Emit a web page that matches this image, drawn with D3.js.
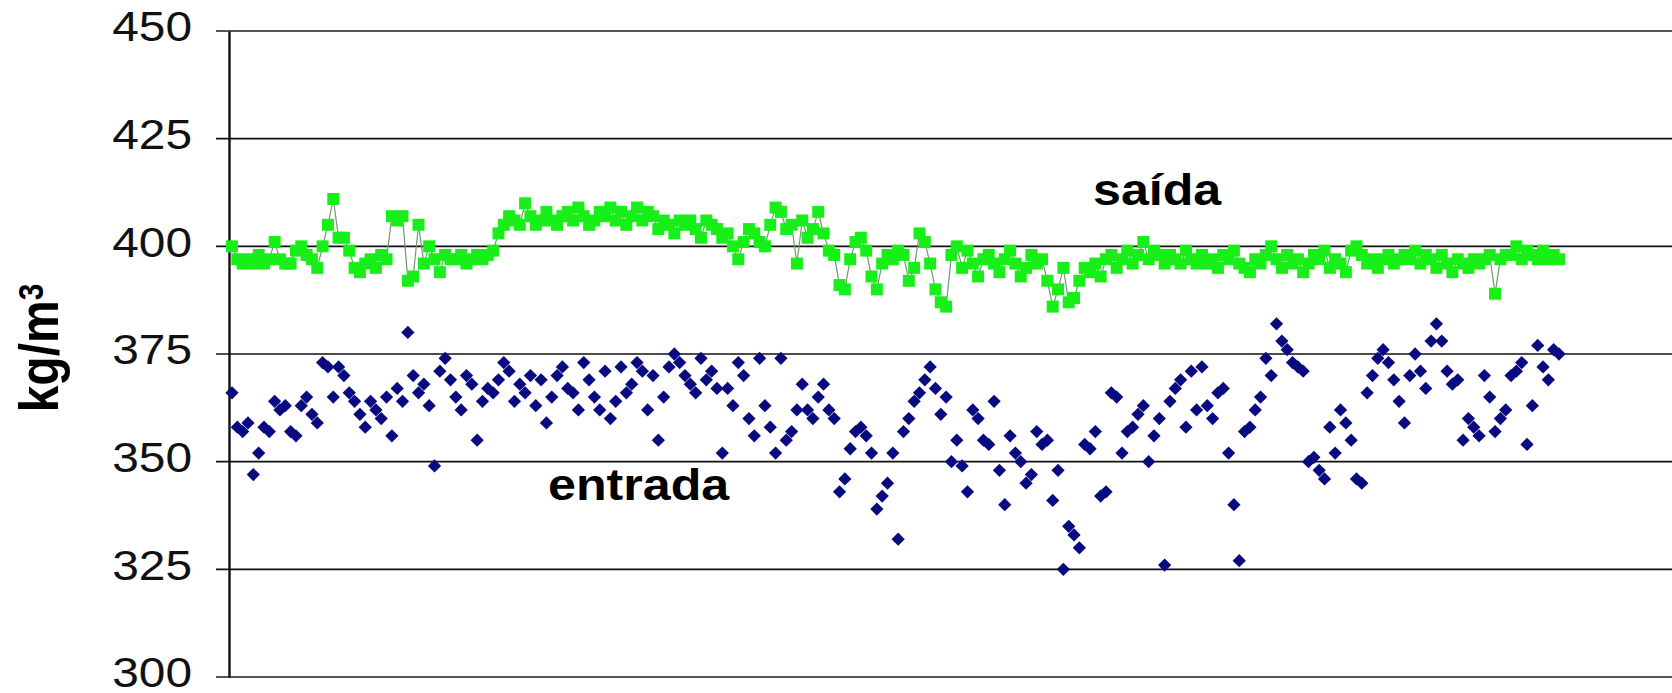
<!DOCTYPE html>
<html>
<head>
<meta charset="utf-8">
<script src="https://cdn.jsdelivr.net/npm/d3@7"></script>
<style>
  body { margin: 0; background: #fff; }
  svg { display: block; }
</style>
</head>
<body>
<div id="chart"></div>
<script>
// densidade de saída (quadrados verdes, ligados por linha)
const saida = [
  400, 397, 396, 397, 396, 398, 396, 397, 401, 397,
  396, 396, 399, 400, 398, 397, 395, 400, 405, 411,
  402, 402, 399, 395, 394, 396, 397, 395, 398, 397,
  407, 406, 407, 392, 393, 405, 396, 400, 397, 394,
  398, 397, 397, 398, 396, 397, 398, 397, 398, 399,
  403, 405, 407, 406, 405, 410, 407, 405, 406, 408,
  406, 405, 407, 408, 406, 409, 407, 405, 406, 408,
  407, 409, 406, 408, 405, 407, 409, 406, 408, 407,
  404, 406, 405, 403, 406, 405, 406, 404, 402, 406,
  405, 404, 402, 403, 400, 397, 401, 404, 403, 401,
  400, 405, 409, 408, 404, 405, 396, 406, 402, 404,
  408, 403, 399, 398, 391, 390, 397, 401, 402, 399,
  393, 390, 396, 398, 397, 399, 398, 392, 395, 403,
  401, 396, 390, 387, 386, 398, 400, 395, 399, 396,
  393, 397, 398, 396, 394, 397, 399, 396, 393, 395,
  398, 396, 397, 392, 386, 390, 395, 387, 388, 392,
  395, 394, 396, 393, 397, 398, 395, 397, 399, 396,
  398, 401, 397, 399, 398, 396, 398, 397, 396, 399,
  397, 396, 398, 396, 397, 395, 398, 397, 399, 396,
  395, 394, 397, 396, 398, 400, 397, 395, 398, 396,
  397, 394, 396, 398, 397, 399, 395, 397, 396, 394,
  399, 400, 398, 396, 397, 395, 397, 398, 396, 397,
  398, 397, 399, 396, 398, 397, 395, 398, 396, 394,
  397, 396, 395, 397, 396, 397, 398, 389, 397, 398,
  398, 400, 397, 399, 398, 397, 399, 397, 398, 397
];

// densidade de entrada (losangos azuis, sem linha)
const entrada = [
  366, 358, 357, 359, 347, 352, 358, 357, 364, 362,
  363, 357, 356, 363, 365, 361, 359, 373, 372, 365,
  372, 370, 366, 364, 361, 358, 364, 362, 360, 365,
  356, 367, 364, 380, 370, 366, 368, 363, 349, 371,
  374, 369, 365, 362, 370, 368, 355, 364, 367, 366,
  369, 373, 371, 364, 368, 366, 370, 363, 369, 359,
  365, 370, 372, 367, 366, 362, 373, 369, 365, 362,
  371, 360, 364, 372, 366, 368, 373, 371, 362, 370,
  355, 365, 372, 375, 373, 370, 368, 366, 374, 369,
  371, 367, 352, 367, 363, 373, 370, 360, 356, 374,
  363, 358, 352, 374, 355, 357, 362, 368, 362, 360,
  365, 368, 362, 360, 343, 346, 353, 357, 358, 356,
  352, 339, 342, 345, 352, 332, 357, 360, 364, 366,
  369, 372, 367, 361, 365, 350, 355, 349, 343, 362,
  360, 355, 354, 364, 348, 340, 356, 352, 350, 345,
  347, 357, 354, 355, 341, 348, 325, 335, 333, 330,
  354, 353, 357, 342, 343, 366, 365, 352, 357, 358,
  361, 363, 350, 356, 360, 326, 364, 367, 369, 358,
  371, 362, 372, 363, 360, 366, 367, 352, 340, 327,
  357, 358, 362, 365, 374, 370, 382, 378, 376, 373,
  372, 371, 350, 351, 348, 346, 358, 352, 362, 359,
  355, 346, 345, 366, 370, 374, 376, 373, 369, 364,
  359, 370, 375, 371, 367, 378, 382, 378, 371, 368,
  369, 355, 360, 358, 356, 370, 365, 357, 360, 362,
  370, 371, 373, 354, 363, 377, 372, 369, 376, 375
];

const yTicks = [300, 325, 350, 375, 400, 425, 450];
const yTitle = 'kg/m';
const yTitleSup = '3';
const labelSaida = 'saída';
const labelEntrada = 'entrada';

const width = 1672;
const height = 693;
const axisX = 229;
const stretch = 1.14; // the original picture is a bit wider than its fonts
const font = '"Liberation Sans", Arial, sans-serif';

const svg = d3.select('#chart').append('svg')
  .attr('width', width).attr('height', height);

const n = Math.max(saida.length, entrada.length);
const x = d3.scaleLinear().domain([0, n - 1]).range([232, 1559]);
const y = d3.scaleLinear().domain([300, 450]).range([677, 31]);

// grid lines
svg.append('g').selectAll('line').data(yTicks).enter().append('line')
  .attr('x1', 216).attr('x2', width)
  .attr('y1', d => y(d)).attr('y2', d => y(d))
  .attr('stroke', d => (d === 450 || d === 300) ? '#555' : '#111')
  .attr('stroke-width', d => (d === 450 || d === 300) ? 2.2 : 1.6);

// y axis with labels
const yAxis = d3.axisLeft(y).tickValues(yTicks).tickSize(0).tickPadding(0).tickFormat(d3.format('d'));
const gy = svg.append('g').attr('transform', 'translate(' + axisX + ',0)').call(yAxis);
gy.select('.domain').attr('stroke', '#111').attr('stroke-width', 2.4);
gy.selectAll('.tick text')
  .attr('x', 0)
  .attr('dy', '0.33em')
  .attr('text-anchor', 'end')
  .attr('transform', 'translate(-37,-4) scale(' + stretch + ',1)')
  .style('font-family', font)
  .style('font-size', '42px')
  .attr('fill', '#111');

// y axis title, rotated
const title = svg.append('text')
  .attr('transform', 'translate(58,348) scale(' + stretch + ',1) rotate(-90)')
  .attr('text-anchor', 'middle')
  .style('font-family', font)
  .style('font-size', '48px')
  .style('font-weight', 'bold')
  .attr('fill', '#000');
title.append('tspan').text(yTitle);
title.append('tspan').text(yTitleSup).attr('dy', '-0.45em').style('font-size', '30px');

// saída: line + squares
const line = d3.line().x((d, i) => x(i)).y(d => y(d));
svg.append('path').attr('d', line(saida))
  .attr('fill', 'none').attr('stroke', '#6f9a6f').attr('stroke-width', 1.2);
svg.append('g').selectAll('rect').data(saida).enter().append('rect')
  .attr('x', (d, i) => x(i) - 6).attr('y', d => y(d) - 6)
  .attr('width', 12).attr('height', 12)
  .attr('fill', '#18ee18');

// entrada: diamonds
const diamond = d3.symbol().type(d3.symbolSquare).size(88);
svg.append('g').selectAll('path').data(entrada).enter().append('path')
  .attr('d', diamond)
  .attr('transform', (d, i) => 'translate(' + x(i) + ',' + y(d) + ') rotate(45)')
  .attr('fill', '#0a0a80');

// series labels
svg.append('text')
  .attr('transform', 'translate(1093,205) scale(' + stretch + ',1)')
  .style('font-family', font).style('font-size', '44px').style('font-weight', 'bold')
  .attr('fill', '#000').text(labelSaida);
svg.append('text')
  .attr('transform', 'translate(548,500) scale(' + stretch + ',1)')
  .style('font-family', font).style('font-size', '44px').style('font-weight', 'bold')
  .attr('fill', '#000').text(labelEntrada);
</script>
</body>
</html>
